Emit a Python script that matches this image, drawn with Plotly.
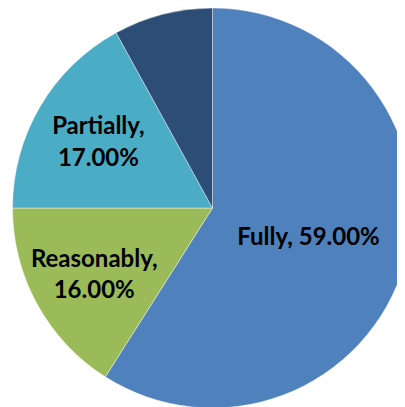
import plotly.graph_objects as go

labels = ["Fully", "Reasonably", "Partially", "Not at all"]
values = [59, 16, 17, 8]
colors = ["#4F81BD", "#9BBB59", "#4BACC6", "#2C4D75"]
texts = ["Fully, 59.00%", "Reasonably,<br>16.00%", "Partially,<br>17.00%", ""]

fig = go.Figure(go.Pie(
    labels=labels,
    values=values,
    text=texts,
    textinfo="text",
    textposition="inside",
    insidetextorientation="horizontal",
    sort=False,
    direction="clockwise",
    rotation=0,
    marker=dict(colors=colors, line=dict(color="rgba(255,255,255,0.6)", width=0.7)),
    textfont=dict(family="Lato", size=24, color="#000000", weight="bold"),
    hoverinfo="label+percent",
    showlegend=False,
))

fig.update_layout(
    width=405, height=407,
    margin=dict(l=4, r=0, t=0, b=7),
    paper_bgcolor="white",
    plot_bgcolor="white",
    uniformtext=dict(minsize=24, mode="show"),
)

fig.write_html("out.html")
